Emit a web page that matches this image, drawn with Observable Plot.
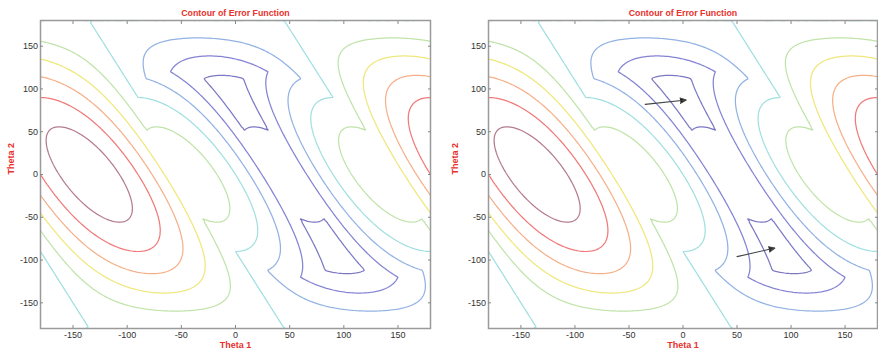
<!DOCTYPE html>
<html>
<head>
<meta charset="utf-8">
<script src="https://cdn.jsdelivr.net/npm/d3@7"></script>
<script src="https://cdn.jsdelivr.net/npm/@observablehq/plot@0.6"></script>
<style>
  html, body { margin: 0; padding: 0; background: #fff; }
  #chart { display: flex; width: 878px; height: 356px; }
  #chart svg { display: block; }
</style>
</head>
<body>
<div id="chart"></div>
<script>
// Two-link arm: link lengths and the target point for the end effector
const LINK_LENGTHS = [1, 1];
const TARGET = [1, 1];

// Joint-angle range (degrees), sampling step of the error grid, axis ticks
const THETA_RANGE = [-180, 180];
const GRID_STEP = 2;
const THETA_TICKS = [-150, -100, -50, 0, 50, 100, 150];

// Contour levels of the error and their line colours (low → high)
const LEVELS = [0.5, 1, 1.5, 2, 2.5, 3, 3.5, 4, 4.5];
const LEVEL_COLORS = ["#7b78c4", "#8483d4", "#92b2e4", "#a2dfe0", "#c0e3aa", "#efe77c", "#f5b089", "#f07a7a", "#b47c8c"];

// Search steps marked on the second panel (start and end joint angles)
const STEP_FROM_THETA1 = [-35, 50];
const STEP_FROM_THETA2 = [82, -96];
const STEP_TO_THETA1 = [3, 85];
const STEP_TO_THETA2 = [87, -86];

const TITLE = "Contour of Error Function";
const X_LABEL = "Theta 1";
const Y_LABEL = "Theta 2";

const RED = "#e8312c";
const FONT = "'Liberation Sans', Arial, Helvetica, sans-serif";
const plainNumber = (d) => String(d); // hyphen-minus, as in the printed axes

// Absolute (city-block) error between the end effector and the target
function armError(theta1, theta2) {
  const a = theta1 * Math.PI / 180;
  const b = (theta1 + theta2) * Math.PI / 180;
  const x = LINK_LENGTHS[0] * Math.cos(a) + LINK_LENGTHS[1] * Math.cos(b);
  const y = LINK_LENGTHS[0] * Math.sin(a) + LINK_LENGTHS[1] * Math.sin(b);
  return Math.abs(x - TARGET[0]) + Math.abs(y - TARGET[1]);
}

const steps = STEP_FROM_THETA1.map((t1, i) => ({
  t1, t2: STEP_FROM_THETA2[i], u1: STEP_TO_THETA1[i], u2: STEP_TO_THETA2[i]
}));

function panel({width, marginLeft, marginRight, yLabelDx, withSteps}) {
  const n = Math.round((THETA_RANGE[1] - THETA_RANGE[0]) / GRID_STEP) + 1;
  const half = GRID_STEP / 2;
  const marks = [
    Plot.contour({
      value: armError,
      x1: THETA_RANGE[0] - half, x2: THETA_RANGE[1] + half,
      y1: THETA_RANGE[0] - half, y2: THETA_RANGE[1] + half,
      width: n, height: n,
      thresholds: LEVELS,
      stroke: "value",
      fill: "none",
      strokeWidth: 1.25,
      clip: true
    }),
    Plot.frame({stroke: "#9a9a9a", strokeWidth: 1.5}),
    Plot.axisX(THETA_TICKS, {anchor: "bottom", tickSize: -3, tickPadding: 6, stroke: "#888",
      fontSize: 9, fill: "#333", tickFormat: plainNumber, label: null}),
    Plot.axisX(THETA_TICKS, {anchor: "top", tickSize: -3, tickFormat: () => "", stroke: "#888", label: null}),
    Plot.axisY(THETA_TICKS, {anchor: "left", tickSize: -3, tickPadding: 5.5, stroke: "#888",
      fontSize: 9, fill: "#333", tickFormat: plainNumber, label: null}),
    Plot.axisY(THETA_TICKS, {anchor: "right", tickSize: -3, tickFormat: () => "", stroke: "#888", label: null}),
    Plot.text([TITLE], {frameAnchor: "top", dy: -11, fill: RED, fontWeight: "bold", fontSize: 8.8}),
    Plot.text([X_LABEL], {frameAnchor: "bottom", dy: 19, fill: RED, fontWeight: "bold", fontSize: 9}),
    Plot.text([Y_LABEL], {frameAnchor: "left", dx: yLabelDx, rotate: -90, fill: RED, fontWeight: "bold", fontSize: 9})
  ];
  if (withSteps) {
    marks.push(Plot.arrow(steps, {
      x1: "t1", y1: "t2", x2: "u1", y2: "u2",
      stroke: "#444", fill: "#111", strokeWidth: 1.1, headLength: 9, headAngle: 48
    }));
  }
  return Plot.plot({
    width, height: 356,
    marginLeft, marginRight, marginTop: 20, marginBottom: 28,
    style: {fontFamily: FONT, background: "#fff", overflow: "visible"},
    x: {domain: THETA_RANGE, axis: null},
    y: {domain: THETA_RANGE, axis: null},
    color: {type: "ordinal", domain: LEVELS, range: LEVEL_COLORS},
    marks
  });
}

const chart = document.getElementById("chart");
chart.append(panel({width: 440, marginLeft: 40, marginRight: 10, yLabelDx: -29, withSteps: false}));
chart.append(panel({width: 438, marginLeft: 48, marginRight: 1, yLabelDx: -33, withSteps: true}));
</script>
</body>
</html>
